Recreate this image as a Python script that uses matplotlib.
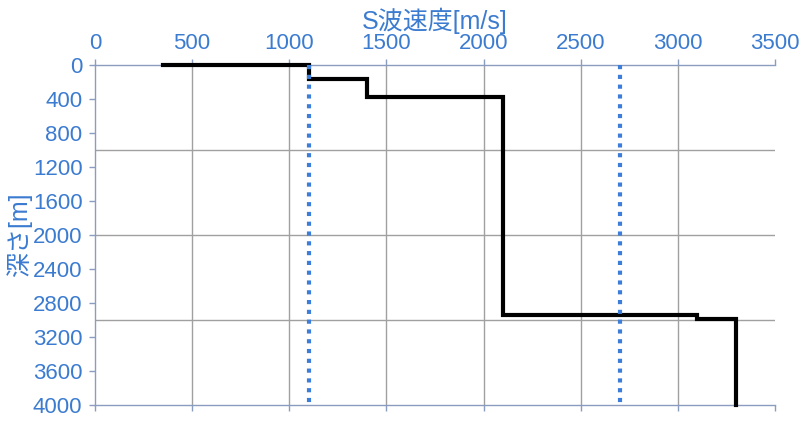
import matplotlib
matplotlib.use("Agg")
from matplotlib import pyplot as plt
from matplotlib.ticker import MultipleLocator, FixedLocator

plt.rcParams['font.family'] = ['Liberation Sans', 'Noto Sans CJK JP', 'DejaVu Sans']

# S-wave velocity layers (m/s) and their top depths (m)
vs_layers = [350, 1100, 1400, 2100, 3100, 3300]
layer_tops = [3, 5, 165, 375, 2940, 2990]
max_depth = 4000
ref_velocities = [1100, 2700]  # dotted reference lines
x_grid = [500, 1000, 1500, 2000, 2500, 3000]
y_grid = [1000, 2000, 3000]

label_blue = "#3b7bd0"
spine_col = "#8a9cc0"
grid_col = "#a0a0a0"

# build the step profile from the layer table
bottoms = layer_tops[1:] + [max_depth]
xs, ys = [], []
for v, top, bot in zip(vs_layers, layer_tops, bottoms):
    xs += [v, v]
    ys += [top, bot]

fig = plt.figure(figsize=(8.09, 4.23), dpi=100)
ax = fig.add_axes([0.1174, 0.0426, 0.8405, 0.8037])

ax.set_xlim(0, 3500)
ax.set_ylim(max_depth, 0)

ax.xaxis.set_major_locator(MultipleLocator(500))
ax.xaxis.set_minor_locator(FixedLocator(x_grid))
ax.yaxis.set_major_locator(MultipleLocator(400))
ax.yaxis.set_minor_locator(FixedLocator(y_grid))
ax.xaxis.remove_overlapping_locs = False
ax.yaxis.remove_overlapping_locs = False

# grid lines only on the minor locations (as in the original sheet)
ax.grid(True, which="minor", color=grid_col, lw=1)
ax.set_axisbelow(True)

ax.plot(xs, ys, color="black", lw=3, solid_joinstyle="miter", zorder=4,
        clip_on=False)

for v in ref_velocities:
    ax.plot([v, v], [0, max_depth], color="#3c7dd9", lw=3, ls=(0, (1, 1.35)),
            solid_capstyle="butt", dash_capstyle="butt", zorder=5)

ax.xaxis.set_label_position("top")
ax.tick_params(axis="x", which="major", top=True, labeltop=True, bottom=True,
               labelbottom=False, direction="out", length=4, width=1,
               color=spine_col, labelcolor=label_blue, labelsize=16, pad=4)
ax.tick_params(axis="y", which="major", left=True, direction="out", length=4,
               width=1, color=spine_col, labelcolor=label_blue, labelsize=16, pad=5)
ax.tick_params(which="minor", length=0)

ax.spines["right"].set_visible(False)
for s in ["top", "bottom", "left"]:
    ax.spines[s].set_color(spine_col)
    ax.spines[s].set_linewidth(1)

ax.set_xlabel("S波速度[m/s]", color=label_blue, fontsize=18, labelpad=3)
ax.set_ylabel("深さ[m]", color=label_blue, fontsize=18)
ax.yaxis.set_label_coords(-0.093, 0.5)

fig.savefig("out.png", dpi=100)
